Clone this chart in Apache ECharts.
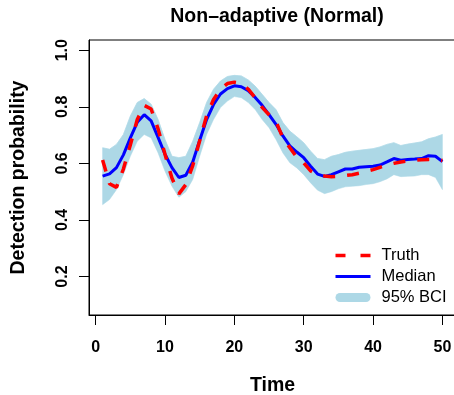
<!DOCTYPE html>
<html>
<head>
<meta charset="utf-8">
<script src="https://cdn.jsdelivr.net/npm/echarts@6/dist/echarts.min.js"></script>
<style>
html,body{margin:0;padding:0;background:#fff;}
#chart{width:454px;height:395px;}
</style>
</head>
<body>
<div id="chart"></div>
<script>
const times = [1,2,3,4,5,6,7,8,9,10,11,12,13,14,15,16,17,18,19,20,21,22,23,24,25,26,27,28,29,30,31,32,33,34,35,36,37,38,39,40,41,42,43,44,45,46,47,48,49,50];
const truth = [0.612,0.528,0.515,0.580,0.665,0.755,0.805,0.792,0.722,0.632,0.548,0.492,0.525,0.592,0.680,0.768,0.826,0.862,0.882,0.887,0.883,0.862,0.832,0.798,0.772,0.748,0.690,0.655,0.622,0.602,0.573,0.560,0.555,0.553,0.554,0.557,0.560,0.565,0.572,0.578,0.586,0.594,0.600,0.605,0.608,0.611,0.613,0.614,0.615,0.610];
const median = [0.555,0.563,0.585,0.630,0.690,0.745,0.772,0.750,0.692,0.632,0.585,0.550,0.558,0.605,0.682,0.755,0.808,0.845,0.864,0.874,0.871,0.857,0.833,0.805,0.772,0.738,0.697,0.662,0.640,0.620,0.590,0.562,0.554,0.560,0.570,0.580,0.580,0.586,0.588,0.590,0.594,0.605,0.617,0.611,0.614,0.615,0.617,0.627,0.625,0.606];
const upper = [0.655,0.650,0.667,0.702,0.767,0.815,0.829,0.809,0.755,0.684,0.625,0.620,0.625,0.678,0.744,0.815,0.862,0.891,0.907,0.911,0.909,0.895,0.873,0.844,0.815,0.790,0.744,0.714,0.694,0.673,0.643,0.617,0.613,0.625,0.631,0.639,0.643,0.646,0.649,0.652,0.658,0.667,0.673,0.663,0.668,0.672,0.676,0.687,0.693,0.702];
const lower = [0.454,0.472,0.507,0.560,0.625,0.678,0.702,0.690,0.637,0.572,0.519,0.480,0.500,0.543,0.625,0.702,0.755,0.797,0.820,0.836,0.832,0.815,0.790,0.755,0.726,0.684,0.637,0.602,0.584,0.560,0.531,0.505,0.493,0.500,0.510,0.517,0.519,0.521,0.525,0.528,0.535,0.545,0.560,0.553,0.554,0.555,0.560,0.560,0.550,0.507];
const xTicks = [0,10,20,30,40,50];
const yTicks = [0.2,0.4,0.6,0.8,1.0];

const FONT = 'Liberation Sans';
const BAND = '#ADD8E6';
const chart = echarts.init(document.getElementById('chart'), null, {renderer:'canvas'});
const pair = arr => times.map((t,i)=>[t, arr[i]]);

function renderBand(params, api){
  if (params.dataIndex !== 0) return null;
  const pts = [];
  for (let i = 0; i < times.length; i++) pts.push(api.coord([times[i], upper[i]]));
  for (let i = times.length - 1; i >= 0; i--) pts.push(api.coord([times[i], lower[i]]));
  return {type:'polygon', shape:{points:pts}, style:{fill:BAND, stroke:BAND, lineWidth:0.5}};
}

chart.setOption({
  animation:false,
  backgroundColor:'#fff',
  textStyle:{fontFamily:FONT},
  title:{
    text:'Non\u2013adaptive (Normal)',
    left:272, top:2, textAlign:'center',
    textStyle:{fontFamily:FONT, fontWeight:'bold', fontSize:19.5, color:'#000'}
  },
  grid:{left:89, right:-2, top:40, bottom:80, show:true, borderColor:'#000', borderWidth:1,
        backgroundColor:'transparent', containLabel:false, outerBoundsMode:'none'},
  legend:{
    orient:'vertical', left:326, top:242,
    itemWidth:35, itemHeight:14, itemGap:4,
    data:[
      {name:'Truth', lineStyle:{width:3.5, type:[10,15]}},
      {name:'Median', lineStyle:{width:3}},
      {name:'95% BCI', lineStyle:{width:9, cap:'round', type:[26,1000], dashOffset:-4.5}}
    ],
    textStyle:{fontFamily:FONT, fontSize:16.5, color:'#000', padding:[0,0,0,6]}
  },
  xAxis:{
    type:'value', min:-0.96, max:51.96,
    name:'Time', nameLocation:'middle', nameGap:61,
    nameTextStyle:{fontFamily:FONT, fontWeight:'bold', fontSize:19.5, color:'#000'},
    axisLine:{show:true, onZero:false, lineStyle:{color:'#000', width:1}},
    axisTick:{show:true, customValues:xTicks, length:10, lineStyle:{color:'#000'}},
    axisLabel:{customValues:xTicks, margin:25, fontFamily:FONT, fontWeight:'bold', fontSize:16, color:'#000'},
    splitLine:{show:false}
  },
  yAxis:{
    type:'value', min:0.064, max:1.036,
    name:'Detection probability', nameLocation:'middle', nameGap:60, nameRotate:90,
    nameTextStyle:{fontFamily:FONT, fontWeight:'bold', fontSize:19.5, color:'#000'},
    axisLine:{show:true, onZero:false, lineStyle:{color:'#000', width:1}},
    axisTick:{show:true, customValues:yTicks, length:10, lineStyle:{color:'#000'}},
    axisLabel:{customValues:yTicks, rotate:90, margin:18, fontFamily:FONT, fontWeight:'bold', fontSize:16, color:'#000',
      formatter:v=>v.toFixed(1)},
    splitLine:{show:false}
  },
  series:[
    {name:'bandFill', type:'custom', renderItem:renderBand,
     data:times.map((t,i)=>[t, lower[i], upper[i]]), encode:{x:0, y:[1,2]}, silent:true, z:1},
    {name:'95% BCI', type:'line', data:pair(upper), symbol:'none',
     lineStyle:{color:BAND, width:0.5}, itemStyle:{color:BAND, opacity:0}, z:1},
    {name:'Median', type:'line', data:pair(median), symbol:'none',
     lineStyle:{color:'#0000FF', width:3}, itemStyle:{color:'#0000FF', opacity:0}, z:3},
    {name:'Truth', type:'line', data:pair(truth), symbol:'none',
     lineStyle:{color:'#FF0000', width:3.5, type:[12,12]}, itemStyle:{color:'#FF0000', opacity:0}, z:4}
  ]
});
</script>
</body>
</html>
